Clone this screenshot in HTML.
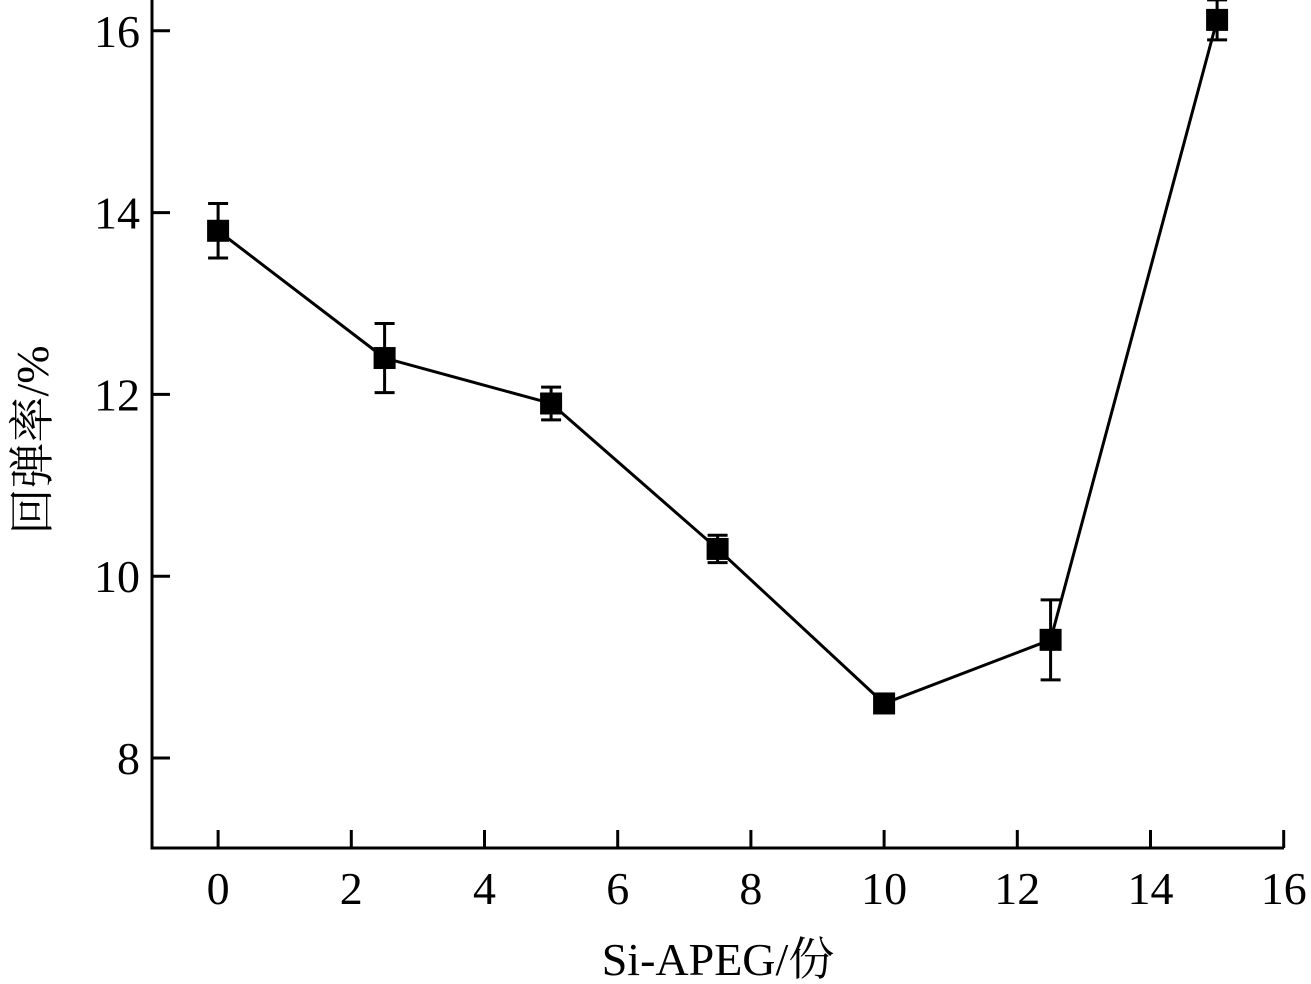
<!DOCTYPE html>
<html><head><meta charset="utf-8"><style>
html,body{margin:0;padding:0;background:#fff;}
svg{display:block;}
text{font-family:"Liberation Serif","Noto Serif CJK SC",serif;fill:#000;}
</style></head><body>
<svg id="chart" width="1311" height="984" viewBox="0 0 1311 984"></svg>
<script>
const xValues=[0,2.5,5,7.5,10,12.5,15];
const yValues=[13.8,12.4,11.9,10.3,8.6,9.3,16.12];
const yErrors=[0.3,0.38,0.18,0.15,0.05,0.44,0.22];
const xTicks=[0,2,4,6,8,10,12,14,16];
const yTicks=[8,10,12,14,16];
const NS="http://www.w3.org/2000/svg";
const svg=document.getElementById('chart');
function X(v){return 151.5+(v+1)*66.6;}
function Y(v){return 758-(v-8)*90.9;}
function el(t,a,p){const e=document.createElementNS(NS,t);for(const k in a)e.setAttribute(k,a[k]);(p||svg).appendChild(e);return e;}
// axes
const ax=el('path',{d:`M152,0 L152,848 L1284,848 L1284,0`,fill:'none',stroke:'#000','stroke-width':3});


// remove top/right: reference shows only left & bottom axes
ax.setAttribute('d','M152,0 L152,848 L1284,848');
xTicks.forEach(t=>{
 const l=el('line',{x1:X(t),x2:X(t),y1:848,y2:830,stroke:'#000','stroke-width':3});
 
 
 const tx=el('text',{x:X(t),y:904,'text-anchor':'middle','font-size':46});
 tx.textContent=t;
 
 
});
yTicks.forEach(t=>{
 const l=el('line',{x1:152,x2:170,y1:Y(t),y2:Y(t),stroke:'#000','stroke-width':3});
 
 
 const tx=el('text',{x:140,y:Y(t)+16,'text-anchor':'end','font-size':46});
 tx.textContent=t;
 
 
});
// line
const pl=el('polyline',{points:xValues.map((x,i)=>X(x)+','+Y(yValues[i])).join(' '),fill:'none',stroke:'#000','stroke-width':3});


xValues.forEach((x,i)=>{
 const cx=X(x),y1=Y(yValues[i]+yErrors[i]),y2=Y(yValues[i]-yErrors[i]);
 const e=el('path',{d:`M${cx},${y1} L${cx},${y2} M${cx-10},${y1} L${cx+10},${y1} M${cx-10},${y2} L${cx+10},${y2}`,stroke:'#000','stroke-width':3,fill:'none'});
 
 
 const m=el('rect',{x:cx-11,y:Y(yValues[i])-11,width:22,height:22,fill:'#000'});
 
 
});
const xt=el('text',{x:718,y:975,'text-anchor':'middle','font-size':46});
xt.textContent='Si-APEG/份';


const yt=el('text',{x:0,y:0,'text-anchor':'middle','font-size':46,transform:'translate(48,440) rotate(-90)'});
yt.textContent='回弹率/%';


</script>
</body></html>
